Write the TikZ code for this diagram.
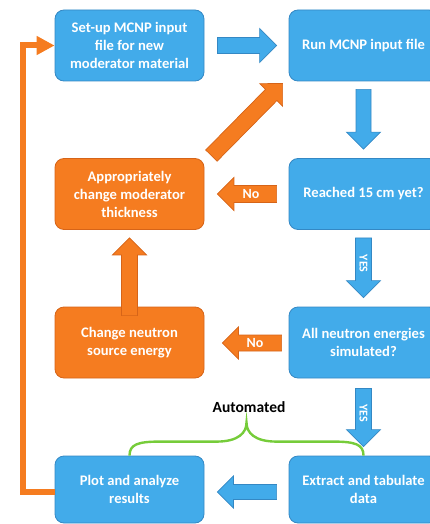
\documentclass[tikz,border=0pt]{standalone}
\usepackage{fontspec}
\setmainfont{Carlito}
\usetikzlibrary{calc,arrows.meta}
\definecolor{bfill}{RGB}{66,171,234}
\definecolor{bdraw}{RGB}{52,136,196}
\definecolor{ofill}{RGB}{245,124,32}
\definecolor{odraw}{RGB}{214,100,24}
\definecolor{bracegreen}{RGB}{118,204,58}
\tikzset{
  box/.style={rectangle, rounded corners=9pt, minimum width=149pt, minimum height=71pt,
    inner sep=0pt, align=center, text=white, line width=0.8pt,
    font=\bfseries\fontsize{14.6}{18}\selectfont},
  bluebox/.style={box, fill=bfill, draw=bdraw},
  orangebox/.style={box, fill=ofill, draw=odraw},
  bluearrow/.style={fill=bfill, draw=bdraw, line width=0.7pt},
  orangearrow/.style={fill=ofill, draw=odraw, line width=0.7pt},
  arrowlabel/.style={text=white, inner sep=0pt, font=\bfseries\fontsize{14}{16}\selectfont},
  yeslabel/.style={text=white, inner sep=0pt, font=\bfseries\fontsize{12}{14}\selectfont},
  feedback/.style={draw=ofill, line width=6pt, -{Triangle[width=18pt,length=18pt]}},
  brace/.style={draw=bracegreen, line width=2.4pt},
}
% #1 style, #2 from, #3 to, #4 shaft half width, #5 head half width (= head length)
\newcommand\blockarrow[5]{%
  \path[#1] let \p1=(#2), \p2=(#3),
    \n1={atan2(\y2-\y1,\x2-\x1)}, \n2={veclen(\x2-\x1,\y2-\y1)} in
    ($(\p1)+({\n1+90}:#4)$)
    -- ($(\p1)+(\n1:{\n2-#5})+({\n1+90}:#4)$)
    -- ($(\p1)+(\n1:{\n2-#5})+({\n1+90}:#5)$)
    -- (\p2)
    -- ($(\p1)+(\n1:{\n2-#5})+({\n1-90}:#5)$)
    -- ($(\p1)+(\n1:{\n2-#5})+({\n1-90}:#4)$)
    -- ($(\p1)+({\n1-90}:#4)$) -- cycle;}
\begin{document}
\begin{tikzpicture}[x=1pt,y=1pt]
\useasboundingbox (0,0) rectangle (430,-524);
% boxes
\node[bluebox] (setup) at (129.5,-45.5) {Set-up MCNP input\\file for new\\moderator material};
\node[bluebox] (run) at (363.5,-45.5) {Run MCNP input file};
\node[orangebox] (approp) at (129.5,-194) {Appropriately\\change moderator\\thickness};
\node[bluebox] (reached) at (363.5,-194) {Reached 15 cm yet?};
\node[orangebox] (change) at (129.5,-342.5) {Change neutron\\source energy};
\node[bluebox] (allneu) at (363.5,-342.5) {All neutron energies\\simulated?};
\node[bluebox, minimum height=67pt] (plot) at (129.5,-489.5) {Plot and analyze\\results};
\node[bluebox, minimum height=67pt] (extract) at (363.5,-489.5) {Extract and tabulate\\data};
% block arrows
\blockarrow{bluearrow}{$(setup.east)+(13,0)$}{$(run.west)+(-12,0)$}{8}{17}
\blockarrow{bluearrow}{$(run.south)+(0,-8)$}{$(reached.north)+(0,9)$}{7.5}{17}
\blockarrow{orangearrow}{$(reached.west)+(-12,0)$}{$(approp.east)+(13,0)$}{8.5}{16.5}
\blockarrow{bluearrow}{$(reached.south)+(0,-8)$}{$(allneu.north)+(0,9)$}{8}{17}
\blockarrow{orangearrow}{$(allneu.west)+(-7,-0.5)$}{$(change.east)+(18,-0.5)$}{8}{16}
\blockarrow{bluearrow}{$(allneu.south)+(0,-10)$}{$(extract.north)+(0,9)$}{8}{17}
\blockarrow{bluearrow}{$(extract.west)+(-12,-2.5)$}{$(plot.east)+(13,-2.5)$}{7.5}{16}
\blockarrow{orangearrow}{$(change.north)+(0,-9)$}{$(approp.south)+(0,-8)$}{8}{17}
\blockarrow{orangearrow}{$(approp.north east)+(7,2.5)$}{$(run.south west)+(-6,-2)$}{8}{16}
% arrow labels
\node[arrowlabel] (no1) at ($(approp.east)!0.5!(reached.west)+(4.5,0)$) {No};
\node[arrowlabel] (no2) at ($(change.east)!0.5!(allneu.west)+(8.5,-0.5)$) {No};
\node[yeslabel, rotate=-90] (yes1) at ($(reached.south)!0.5!(allneu.north)+(0,4.5)$) {YES};
\node[yeslabel, rotate=-90] (yes2) at ($(allneu.south)!0.5!(extract.north)+(0,4)$) {YES};
% feedback loop
\draw[feedback] ($(plot.west)+(0,-2.5)$) -- ++(-32,0) |- (setup.west);
% automated brace
\coordinate (bl) at (plot.north);
\coordinate (br) at (extract.north);
\coordinate (tip) at ($(bl)!0.5!(br)+(0,33)$);
\draw[brace] (bl) .. controls ($(bl)+(0,11)$) and ($(bl)+(8,14)$) .. ($(bl)+(30,14)$)
  -- ($(tip)+(-30,-19)$) .. controls ($(tip)+(-8,-19)$) and ($(tip)+(0,-10)$) .. (tip)
  .. controls ($(tip)+(0,-10)$) and ($(tip)+(8,-19)$) .. ($(tip)+(30,-19)$)
  -- ($(br)+(-30,14)$) .. controls ($(br)+(-8,14)$) and ($(br)+(0,11)$) .. (br);
\node[font=\bfseries\fontsize{15.5}{18}\selectfont, inner sep=0pt] (auto) at (249,-407) {Automated};
\end{tikzpicture}
\end{document}
